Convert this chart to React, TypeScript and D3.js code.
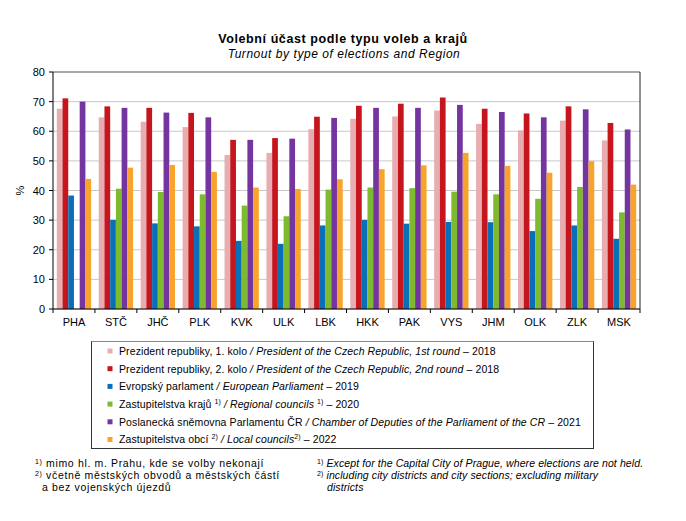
import React from 'react';
import * as d3 from 'd3';

const regions = ['PHA', 'STČ', 'JHČ', 'PLK', 'KVK', 'ULK', 'LBK', 'HKK', 'PAK', 'VYS', 'JHM', 'OLK', 'ZLK', 'MSK'];

const pres1 = [67.6, 64.7, 63.2, 61.4, 52.0, 52.7, 60.7, 64.2, 65.0, 67.0, 62.5, 60.3, 63.6, 56.9];
const pres2 = [71.1, 68.4, 67.9, 66.2, 57.1, 57.7, 64.9, 68.6, 69.3, 71.4, 67.6, 66.0, 68.4, 62.8];
const europe = [38.3, 30.1, 28.9, 27.9, 23.0, 22.0, 28.2, 30.1, 28.8, 29.4, 29.3, 26.3, 28.2, 23.7];
const regional = [null, 40.6, 39.5, 38.7, 34.9, 31.3, 40.3, 41.0, 40.8, 39.6, 38.7, 37.2, 41.2, 32.6];
const chamber = [70.0, 67.9, 66.3, 64.7, 57.1, 57.5, 64.5, 67.9, 67.9, 68.9, 66.5, 64.7, 67.4, 60.6];
const local = [43.9, 47.7, 48.6, 46.3, 41.0, 40.5, 43.8, 47.2, 48.5, 52.7, 48.3, 46.0, 49.9, 42.0];

const yTicks = [0, 10, 20, 30, 40, 50, 60, 70, 80];

type Series = { key: string; color: string; values: (number | null)[] };

const series: Series[] = [
    { key: 'pres1', color: '#e7adb1', values: pres1 },
    { key: 'pres2', color: '#c4161c', values: pres2 },
    { key: 'europe', color: '#0b6fb8', values: europe },
    { key: 'regional', color: '#7dba2f', values: regional },
    { key: 'chamber', color: '#7535a0', values: chamber },
    { key: 'local', color: '#f8a32c', values: local },
];

const font = '"Liberation Sans", Arial, sans-serif';

const Sup = ({ t }: { t: string }) => (
    <tspan fontSize={7} dy={-4} fontStyle="normal">{t}</tspan>
);

export default function App() {
    const W = 686, H = 521;
    const margin = { left: 53, right: 46, top: 72, bottom: 212 };
    const plotW = W - margin.left - margin.right;
    const plotH = H - margin.top - margin.bottom;

    const x0 = d3.scaleBand<string>().domain(regions).range([margin.left, margin.left + plotW]).padding(0);
    const x1 = d3.scaleBand<string>()
        .domain(series.map(s => s.key))
        .range([3.8, x0.bandwidth() - 3.8])
        .padding(0);
    const y = d3.scaleLinear().domain([0, 80]).range([margin.top + plotH, margin.top]);

    const legendRows = [
        <>Prezident republiky, 1. kolo <tspan fontStyle="italic">/ President of the Czech Republic, 1st round</tspan>  – 2018</>,
        <>Prezident republiky, 2. kolo <tspan fontStyle="italic">/ President of the Czech Republic, 2nd round</tspan> – 2018</>,
        <>Evropský parlament <tspan fontStyle="italic">/ European Parliament</tspan> – 2019</>,
        <>Zastupitelstva krajů <Sup t="1)" /><tspan dy={4}> </tspan><tspan fontStyle="italic">/ Regional councils </tspan><Sup t="1)" /><tspan dy={4}>  – 2020</tspan></>,
        <>Poslanecká sněmovna Parlamentu ČR <tspan fontStyle="italic">/ Chamber of Deputies of the Parliament of the CR</tspan> – 2021</>,
        <>Zastupitelstva obcí <Sup t="2)" /><tspan dy={4}> </tspan><tspan fontStyle="italic">/ Local councils</tspan><Sup t="2)" /><tspan dy={4}>  – 2022</tspan></>,
    ];

    return (
        <svg width={W} height={H} style={{ position: 'absolute', left: 0, top: 0, background: '#fff' }} fontFamily={font}>
            <rect x={0} y={0} width={W} height={H} fill="#fff" />
            {/* titles */}
            <text x={343} y={43} textAnchor="middle" fontSize={12.5} fontWeight="bold" letterSpacing={0.6}>Volební účast podle typu voleb a krajů</text>
            <text x={344} y={58} textAnchor="middle" fontSize={12} fontStyle="italic" letterSpacing={0.55}>Turnout by type of elections and Region</text>

            {/* gridlines */}
            {yTicks.map(t => (
                <line key={t} x1={margin.left} x2={margin.left + plotW} y1={y(t)} y2={y(t)} stroke={t === 80 ? '#555' : '#c8c8c8'} strokeWidth={1} />
            ))}
            <line x1={margin.left + plotW} x2={margin.left + plotW} y1={margin.top} y2={margin.top + plotH} stroke="#222" />

            {/* bars */}
            {regions.map((r, i) => (
                <g key={r} transform={`translate(${x0(r)},0)`}>
                    {series.map(s => {
                        const v = s.values[i];
                        if (v == null) return null;
                        return (
                            <rect key={s.key} x={x1(s.key)} y={y(v)} width={x1.bandwidth()} height={y(0) - y(v)} fill={s.color} />
                        );
                    })}
                </g>
            ))}

            {/* y axis */}
            <line x1={margin.left} x2={margin.left} y1={margin.top} y2={margin.top + plotH} stroke="#000" />
            {yTicks.map(t => (
                <g key={t}>
                    <line x1={margin.left - 4} x2={margin.left} y1={y(t)} y2={y(t)} stroke="#000" />
                    <text x={margin.left - 8} y={y(t) + 4} textAnchor="end" fontSize={11}>{t}</text>
                </g>
            ))}
            <text transform={`translate(24,${y(40)}) rotate(-90)`} textAnchor="middle" fontSize={11}>%</text>

            {/* x axis */}
            <line x1={margin.left} x2={margin.left + plotW} y1={y(0)} y2={y(0)} stroke="#000" />
            {regions.map((r, i) => (
                <g key={r}>
                    <line x1={x0(r)!} x2={x0(r)!} y1={y(0)} y2={y(0) + 4} stroke="#000" />
                    {i === regions.length - 1 && (
                        <line x1={x0(r)! + x0.bandwidth()} x2={x0(r)! + x0.bandwidth()} y1={y(0)} y2={y(0) + 4} stroke="#000" />
                    )}
                    <text x={x0(r)! + x0.bandwidth() / 2} y={y(0) + 17} textAnchor="middle" fontSize={11}>{r}</text>
                </g>
            ))}

            {/* legend */}
            <rect x={91.5} y={341.5} width={502} height={107} fill="#fff" stroke="#333" />
            <line x1={91.5} x2={593.5} y1={341.5} y2={341.5} stroke="#888" />
            {series.map((s, i) => (
                <g key={s.key} transform={`translate(107.5,${351 + i * 17.7})`}>
                    <rect x={0} y={-2.5} width={5} height={5} fill={s.color} />
                    <text x={11.5} y={3.8} fontSize={10.5} letterSpacing={0.1}>{legendRows[i]}</text>
                </g>
            ))}

            {/* footnotes */}
            <g fontSize={10.5}>
                <g letterSpacing={0.65}>
                    <text x={35} y={467}><tspan fontSize={7} dy={-3}>1)</tspan><tspan dy={3}> mimo hl. m. Prahu, kde se volby nekonají</tspan></text>
                    <text x={35} y={479}><tspan fontSize={7} dy={-3}>2)</tspan><tspan dy={3}> včetně městských obvodů a městských částí</tspan></text>
                    <text x={42} y={491}>a bez vojenských újezdů</text>
                </g>
                <g fontStyle="italic" letterSpacing={0.1}>
                    <text x={317} y={467}><tspan fontSize={7} dy={-3} fontStyle="normal">1)</tspan><tspan dy={3}> Except for the Capital City of Prague, where elections are not held.</tspan></text>
                    <text x={317} y={479}><tspan fontSize={7} dy={-3} fontStyle="normal">2)</tspan><tspan dy={3}> including city districts and city sections; excluding military</tspan></text>
                    <text x={327} y={491}>districts</text>
                </g>
            </g>
        </svg>
    );
}
